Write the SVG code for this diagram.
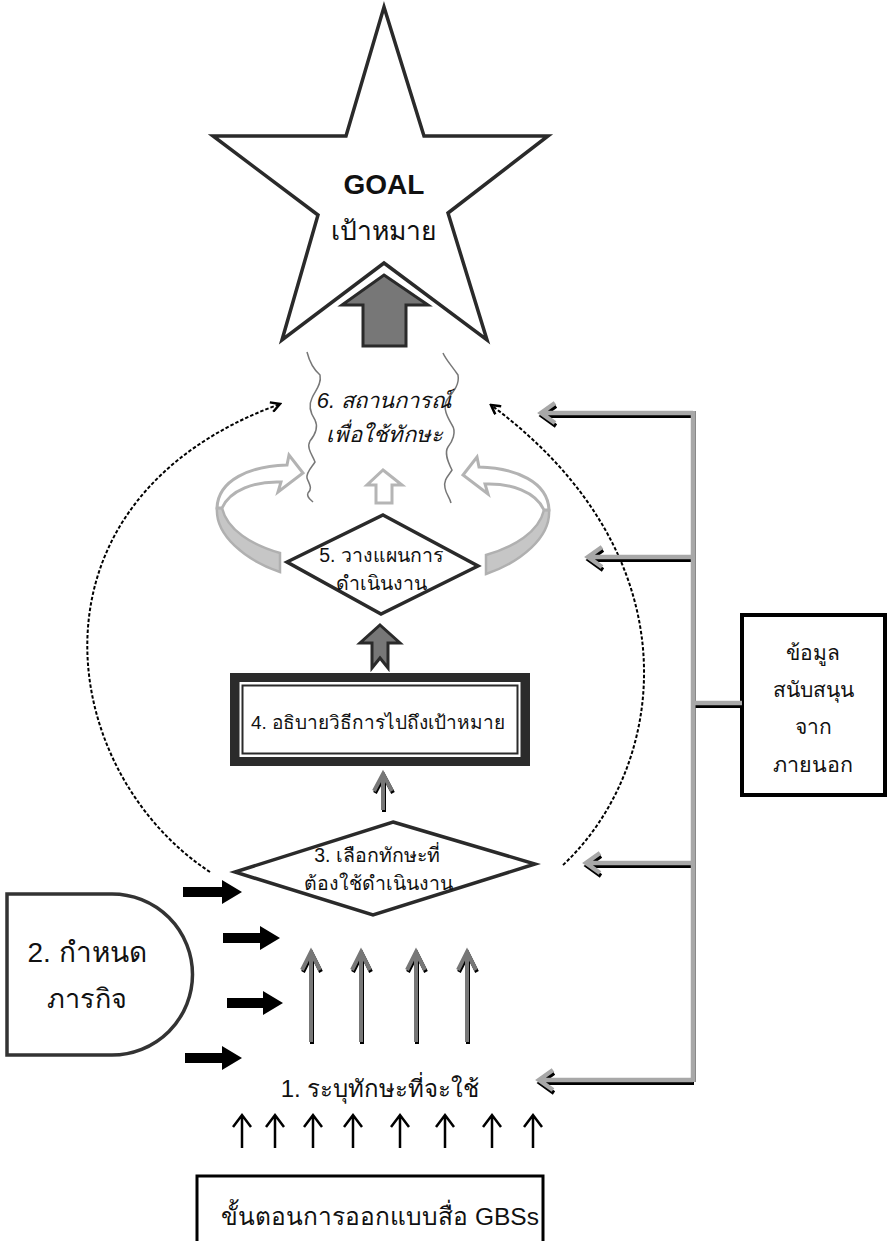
<svg xmlns="http://www.w3.org/2000/svg" width="887" height="1241" viewBox="0 0 887 1241">
  <style>
    .t { font-family: "Liberation Sans", "Noto Sans", "DejaVu Sans", sans-serif; fill: #111; }
    .outline { fill: #fff; stroke: #2a2a2a; stroke-width: 3.5; stroke-linejoin: miter; }
    .dark-arrow { fill: #777; stroke: #2a2a2a; stroke-width: 3; stroke-linejoin: miter; }
    .gray-up { fill: none; stroke: #777; stroke-width: 4; stroke-linejoin: miter; }
    .gray-up-shadow { fill: none; stroke: #000; stroke-width: 4; stroke-linejoin: miter; }
    .thin-up { fill: none; stroke: #000; stroke-width: 2.5; stroke-linecap: butt; }
    .bold-right { fill: #000; }
    .dash { fill: none; stroke: #000; stroke-width: 2; stroke-dasharray: 3.5 2; }
    .wave { fill: none; stroke: #777; stroke-width: 1.5; }
    .feed { fill: none; stroke: #a8a8a8; stroke-width: 4.5; stroke-linejoin: miter; }
    .feed-shadow { fill: none; stroke: #000; stroke-width: 4; stroke-linejoin: miter; }
  </style>
  <defs>
    <marker id="openHead" viewBox="0 0 12 12" refX="10" refY="6" markerWidth="12" markerHeight="12" markerUnits="userSpaceOnUse" orient="auto">
      <path d="M1,1 L10,6 L1,11" fill="none" stroke="#000" stroke-width="2.5"/>
    </marker>
  </defs>

  <rect width="887" height="1241" fill="#fff"/>

  <!-- goal star -->
  <g id="goal">
    <polygon class="outline" points="384,7 424,136 548,136 448,213 487,340 384,263 282,340 318,215 213,136 346,136"/>
    <polygon class="dark-arrow" points="384,275 428,305 406,305 406,346 363,346 363,305 342,305"/>
    <text class="t" x="384" y="194" text-anchor="middle" font-size="28" font-weight="bold">GOAL</text>
    <text class="t" x="384" y="240" text-anchor="middle" font-size="26.5">เป้าหมาย</text>
  </g>

  <!-- step 6: situation -->
  <g id="step6">
    <path class="wave" d="M307,352 C309,360 312,368 320,375 C322,385 314,392 312,398 C308,406 311,414 315,420 C319,428 314,436 310,441 C306,448 313,456 315,462 C312,467 306,472 307,478 C309,484 313,488 308,493 C306,497 311,500 313,502"/>
    <path class="wave" d="M443,353 C446,360 452,366 458,375 C460,386 451,394 447,400 C442,408 448,418 452,425 C457,432 452,442 448,447 C444,453 448,462 452,470 C449,475 443,480 445,488 C446,494 450,498 451,503"/>
    <text class="t" x="384" y="408" text-anchor="middle" font-size="22" font-style="italic">6. สถานการณ์</text>
    <text class="t" x="384" y="442" text-anchor="middle" font-size="22" font-style="italic">เพื่อใช้ทักษะ</text>
  </g>

  <!-- step 5: plan, with circling arrows -->
  <g id="step5">
    <g id="curveLeft">
      <path d="M217,508 C215,535 245,560 280,572 L280,553 C252,545 227,530 222,508 Z" fill="#c6c6c6" stroke="#b0b0b0" stroke-width="2.5"/>
      <path d="M217,508 C218,480 250,466 287,465 L289,455 L303,473 L278,492 L281,482 C255,481 230,490 222,508 Z" fill="#fff" stroke="#b3b3b3" stroke-width="3" stroke-linejoin="miter"/>
    </g>
    <g id="curveRight" transform="translate(766,2) scale(-1,1)">
      <path d="M217,508 C215,535 245,560 280,572 L280,553 C252,545 227,530 222,508 Z" fill="#c6c6c6" stroke="#b0b0b0" stroke-width="2.5"/>
      <path d="M217,508 C218,480 250,466 287,465 L289,455 L303,473 L278,492 L281,482 C255,481 230,490 222,508 Z" fill="#fff" stroke="#b3b3b3" stroke-width="3" stroke-linejoin="miter"/>
    </g>
    <polygon points="383,470 402,485 392,485 392,503 376,503 376,485 367,485" fill="#fff" stroke="#b5b5b5" stroke-width="3"/>
    <polygon class="outline" points="383,515 478,566 381,614 287,562"/>
    <text class="t" x="381" y="562" text-anchor="middle" font-size="19.5">5. วางแผนการ</text>
    <text class="t" x="381" y="590" text-anchor="middle" font-size="19.5">ดำเนินงาน</text>
  </g>

  <!-- step 4: describe the route -->
  <g id="step4">
    <rect x="230" y="673" width="300" height="93" fill="#2b2b2b"/>
    <rect x="239.5" y="682" width="281" height="75" fill="#fff"/>
    <rect x="242.5" y="685.5" width="275" height="68" fill="#fff" stroke="#2b2b2b" stroke-width="2"/>
    <text class="t" x="378" y="729" text-anchor="middle" font-size="19">4. อธิบายวิธีการไปถึงเป้าหมาย</text>
  </g>

  <!-- step 3: choose skills -->
  <g id="step3">
    <polygon class="outline" points="393,822 535,864 373,915 235,872"/>
    <text class="t" x="377" y="862" text-anchor="middle" font-size="19.5">3. เลือกทักษะที่</text>
    <text class="t" x="378" y="890" text-anchor="middle" font-size="19.5">ต้องใช้ดำเนินงาน</text>
  </g>

  <!-- step 2: mission -->
  <g id="step2">
    <path d="M7,894 H112 A80.5,80.5 0 0 1 112,1055 H7 Z" fill="#fff" stroke="#333" stroke-width="3.5"/>
    <text class="t" x="87" y="962" text-anchor="middle" font-size="28">2. กำหนด</text>
    <text class="t" x="87" y="1008" text-anchor="middle" font-size="27">ภารกิจ</text>
  </g>

  <!-- step 1: identify skills -->
  <g id="step1">
    <text class="t" x="380" y="1097" text-anchor="middle" font-size="24">1. ระบุทักษะที่จะใช้</text>
  </g>

  <!-- external support -->
  <g id="support">
    <rect x="742" y="615" width="143" height="180" fill="#fff" stroke="#000" stroke-width="4"/>
    <text class="t" x="813" y="660" text-anchor="middle" font-size="21">ข้อมูล</text>
    <text class="t" x="813" y="697" text-anchor="middle" font-size="21">สนับสนุน</text>
    <text class="t" x="813" y="734" text-anchor="middle" font-size="21">จาก</text>
    <text class="t" x="813" y="772" text-anchor="middle" font-size="21.5">ภายนอก</text>
  </g>

  <!-- design process -->
  <g id="process">
    <rect x="197" y="1176" width="346" height="90" fill="#fff" stroke="#000" stroke-width="3"/>
    <text class="t" x="380" y="1225" text-anchor="middle" font-size="24.5">ขั้นตอนการออกแบบสื่อ GBSs</text>
  </g>

  <!-- connectors -->
  <g id="connectors">
    <!-- dashed feedback loops back to the situation -->
    <path class="dash" d="M210,872 C55,770 15,500 280,404" marker-end="url(#openHead)"/>
    <path class="dash" d="M563,865 C665,770 700,560 491,405" marker-end="url(#openHead)"/>

    <!-- step 5 up to step 4 link -->
    <polygon class="dark-arrow" points="380,625 400,643 388,643 388,668 380,658 372,668 372,643 360,643"/>

    <!-- step 3 to step 4 -->
    <g transform="translate(1,2)"><path class="gray-up-shadow" d="M383,810 V775 M374,791 L383,774 L392,791"/></g>
    <path class="gray-up" d="M383,810 V775 M374,791 L383,774 L392,791"/>

    <!-- step 1 up to step 3 -->
    <g transform="translate(1,2)">
      <path class="gray-up-shadow" d="M311,1042 V953 M302,970 L311,952 L320,970"/>
      <path class="gray-up-shadow" d="M361,1042 V953 M352,970 L361,952 L370,970"/>
      <path class="gray-up-shadow" d="M416,1042 V953 M407,970 L416,952 L425,970"/>
      <path class="gray-up-shadow" d="M467,1042 V953 M458,970 L467,952 L476,970"/>
    </g>
    <path class="gray-up" d="M311,1042 V953 M302,970 L311,952 L320,970"/>
    <path class="gray-up" d="M361,1042 V953 M352,970 L361,952 L370,970"/>
    <path class="gray-up" d="M416,1042 V953 M407,970 L416,952 L425,970"/>
    <path class="gray-up" d="M467,1042 V953 M458,970 L467,952 L476,970"/>

    <!-- mission arrows -->
    <polygon class="bold-right" points="183,887 222,887 222,880 242,892 222,904 222,897 183,897"/>
    <polygon class="bold-right" points="223,933 260,933 260,926 280,938 260,950 260,943 223,943"/>
    <polygon class="bold-right" points="227,998 263,998 263,991 283,1003 263,1015 263,1008 227,1008"/>
    <polygon class="bold-right" points="185,1053 222,1053 222,1046 242,1058 222,1070 222,1063 185,1063"/>

    <!-- process into step 1 -->
    <path class="thin-up" d="M242,1148 V1116 M233,1127 L242,1115 L251,1127"/>
    <path class="thin-up" d="M275,1148 V1116 M266,1127 L275,1115 L284,1127"/>
    <path class="thin-up" d="M313,1148 V1116 M304,1127 L313,1115 L322,1127"/>
    <path class="thin-up" d="M353,1148 V1116 M344,1127 L353,1115 L362,1127"/>
    <path class="thin-up" d="M400,1148 V1116 M391,1127 L400,1115 L409,1127"/>
    <path class="thin-up" d="M445,1148 V1116 M436,1127 L445,1115 L454,1127"/>
    <path class="thin-up" d="M492,1148 V1116 M483,1127 L492,1115 L501,1127"/>
    <path class="thin-up" d="M533,1148 V1116 M524,1127 L533,1115 L542,1127"/>

    <!-- external support feed -->
    <g transform="translate(1,3)">
      <path class="feed-shadow" d="M693,413 H542 M555,403 L541,413 L555,423"/>
      <path class="feed-shadow" d="M693,557 H589 M602,547 L588,557 L602,567"/>
      <path class="feed-shadow" d="M693,863 H587 M600,853 L586,863 L600,873"/>
      <path class="feed-shadow" d="M693,1080 H540 M553,1070 L539,1080 L553,1090"/>
      <path class="feed-shadow" d="M693,703 H742"/>
    </g>
    <path d="M695,411 V1082" stroke="#555" stroke-width="1.5"/>
    <path class="feed" d="M693,411 V1082"/>
    <path class="feed" d="M693,413 H542 M555,403 L541,413 L555,423"/>
    <path class="feed" d="M693,557 H589 M602,547 L588,557 L602,567"/>
    <path class="feed" d="M693,863 H587 M600,853 L586,863 L600,873"/>
    <path class="feed" d="M693,1080 H540 M553,1070 L539,1080 L553,1090"/>
    <path class="feed" d="M693,703 H742"/>
  </g>
</svg>
